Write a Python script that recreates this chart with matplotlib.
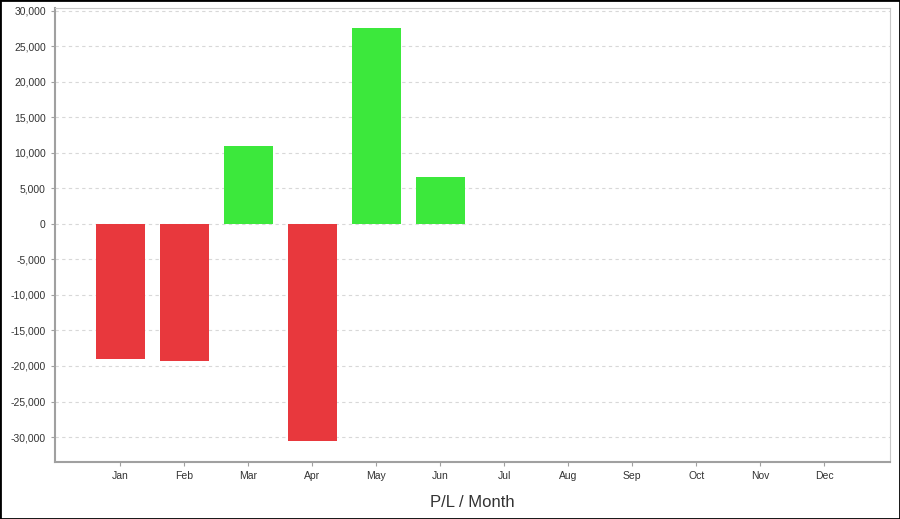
import matplotlib
matplotlib.use('Agg')
import matplotlib.pyplot as plt
from matplotlib.ticker import FuncFormatter, MultipleLocator

plt.rcParams['font.family'] = ['Liberation Sans', 'DejaVu Sans']

months = ['Jan', 'Feb', 'Mar', 'Apr', 'May', 'Jun', 'Jul', 'Aug', 'Sep', 'Oct', 'Nov', 'Dec']
pl_values = [-19000, -19300, 11000, -30500, 27500, 6600]

colors = ['#3CE83C' if v >= 0 else '#E8383D' for v in pl_values]

fig = plt.figure(figsize=(9, 5.19), dpi=100)
ax = fig.add_axes([0.061, 0.110, 0.928, 0.875])

ax.bar(range(len(pl_values)), pl_values, color=colors, width=0.77, zorder=3)

ax.set_xticks(range(len(months)))
ax.set_xticklabels(months)
ax.set_xlim(-1.02, 12.03)
ax.set_ylim(-33500, 30400)
ax.yaxis.set_major_locator(MultipleLocator(5000))
ax.yaxis.set_major_formatter(FuncFormatter(lambda v, p: '{:,.0f}'.format(v)))

ax.grid(axis='y', color='#D8D8D8', linestyle=(0, (3, 3)), linewidth=0.8, zorder=0)
ax.spines['left'].set_color('#A0A0A0')
ax.spines['bottom'].set_color('#A0A0A0')
ax.spines['left'].set_linewidth(1.5)
ax.spines['bottom'].set_linewidth(1.5)
ax.spines['top'].set_color('#C8C8C8')
ax.spines['right'].set_color('#C8C8C8')
ax.tick_params(labelsize=7.5, color='#A0A0A0', length=3, labelcolor='#333333')

ax.set_xlabel('P/L / Month', fontsize=12, color='#333333', labelpad=10)

fig.patches.append(plt.Rectangle((0, 0), 1, 1, transform=fig.transFigure,
                                 fill=False, edgecolor='black', linewidth=2))

fig.savefig('out.png', dpi=100)
